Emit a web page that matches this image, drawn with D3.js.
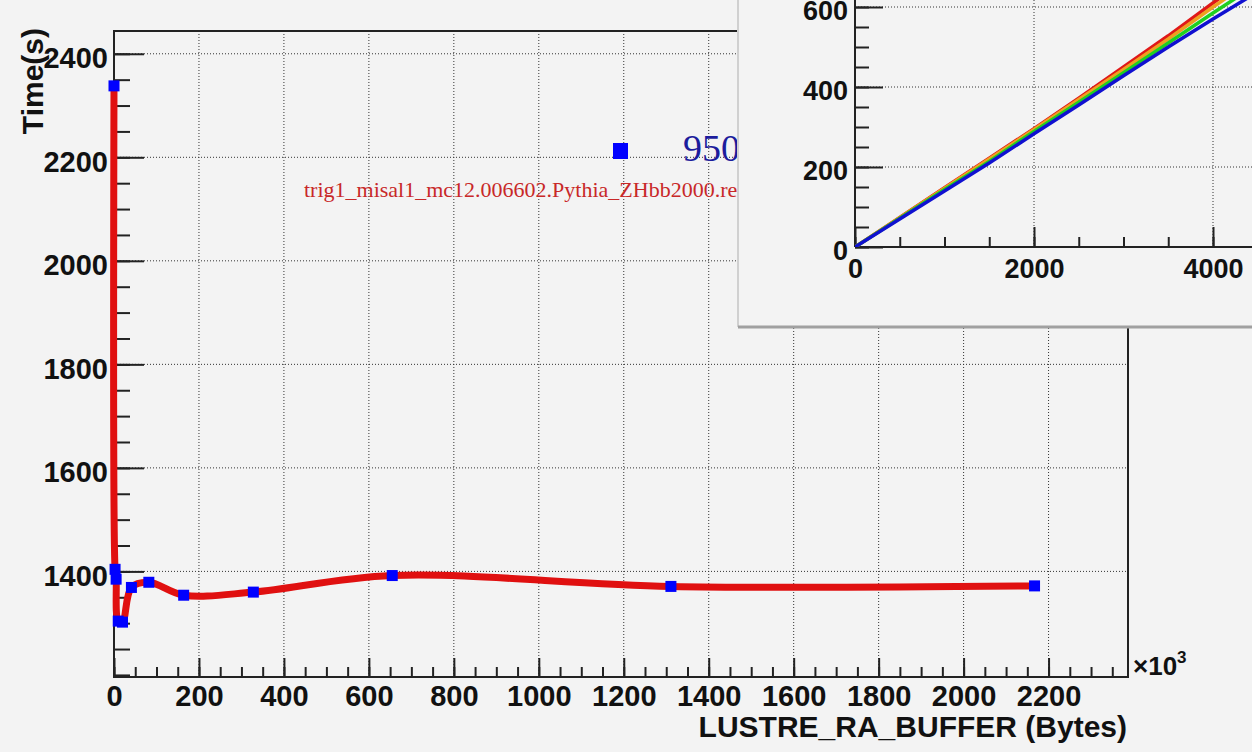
<!DOCTYPE html>
<html>
<head>
<meta charset="utf-8">
<script src="https://cdn.jsdelivr.net/npm/d3@7"></script>
<style>
  body { margin: 0; background: #f3f3f3; }
  svg { display: block; font-family: "Liberation Sans", Arial, sans-serif; }
</style>
</head>
<body>
<div id="chart"></div>
<script>
// main graph: read-ahead buffer size (x10^3 bytes) vs run time
const bufferSize = [0, 2.5, 5, 10, 20, 41, 82, 164, 328, 655, 1311, 2167];
const runTime = [2338, 1404, 1385, 1304, 1302, 1369, 1379, 1354, 1360, 1392, 1371, 1372];
const xTicks = [0, 200, 400, 600, 800, 1000, 1200, 1400, 1600, 1800, 2000, 2200];
const yTicks = [1400, 1600, 1800, 2000, 2200, 2400];
// legend texts: only the part the inset leaves visible
const legendCount = "9500";
const legendFile = "trig1_misal1_mc12.006602.Pythia_ZHbb2000.re";

// inset: time vs events for four runs
const insetEvents = [0, 500, 1000, 1500, 2000, 2500, 3000, 3500, 4000, 4500];
const insetRed = [0, 74, 148, 222, 296, 372, 450, 528, 610, 690];
const insetOrange = [0, 73, 147, 220, 294, 369, 444, 520, 600, 676];
const insetGreen = [0, 72, 144, 214, 289, 362, 436, 510, 585, 658];
const insetBlue = [0, 70, 140, 210, 283, 355, 428, 500, 570, 638];
const insetXTicks = [0, 2000, 4000];
const insetYTicks = [0, 200, 400, 600];

function drawChart() {
  const width = 1252, height = 752;
  const frame = { left: 114, right: 1128, top: 31, bottom: 677 };
  const fmt = d3.format("d");

  const svg = d3.select("#chart").append("svg")
    .attr("width", width)
    .attr("height", height);

  svg.append("rect").attr("width", width).attr("height", height).attr("fill", "#f3f3f3");

  let xScale = d3.scaleLinear().domain([0, 2387]).range([frame.left, frame.right]);
  let yScale = d3.scaleLinear().domain([1196, 2444]).range([frame.bottom, frame.top]);

  // dotted grid
  svg.selectAll(".vgrid").data(xTicks.slice(1)).enter()
    .append("line")
    .attr("x1", d => xScale(d)).attr("x2", d => xScale(d))
    .attr("y1", frame.top).attr("y2", frame.bottom)
    .attr("stroke", "#333").attr("stroke-dasharray", "1,2");
  svg.selectAll(".hgrid").data(yTicks).enter()
    .append("line")
    .attr("x1", frame.left).attr("x2", frame.right)
    .attr("y1", d => yScale(d)).attr("y2", d => yScale(d))
    .attr("stroke", "#333").attr("stroke-dasharray", "1,2");

  // axes (ticks point inward like ROOT)
  let yAxis = svg.append("g")
    .attr("transform", "translate(" + frame.left + ",0)")
    .call(d3.axisLeft(yScale).tickValues(yTicks).tickFormat(fmt).tickSizeInner(-30).tickSizeOuter(0).tickPadding(6));
  svg.append("g")
    .attr("transform", "translate(" + frame.left + ",0)")
    .call(d3.axisLeft(yScale).tickValues(d3.range(1200, 2441, 50)).tickSize(-16).tickFormat(""));

  let xAxis = svg.append("g")
    .attr("transform", "translate(0," + frame.bottom + ")")
    .call(d3.axisBottom(xScale).tickValues(xTicks).tickFormat(fmt).tickSizeInner(-19).tickSizeOuter(0));
  svg.append("g")
    .attr("transform", "translate(0," + frame.bottom + ")")
    .call(d3.axisBottom(xScale).tickValues(d3.range(0, 2387, 50)).tickSize(-10).tickFormat(""));

  svg.selectAll(".domain").remove();
  svg.selectAll(".tick line").attr("stroke", "#222").attr("stroke-width", 2);
  yAxis.selectAll("text").attr("dy", 14);
  xAxis.selectAll("text").attr("y", 29).attr("dy", 0);
  svg.selectAll(".tick text")
    .attr("fill", "#111")
    .style("font-size", "29px")
    .style("font-weight", "bold");

  // frame
  svg.append("rect")
    .attr("x", frame.left).attr("y", frame.top)
    .attr("width", frame.right - frame.left).attr("height", frame.bottom - frame.top)
    .attr("fill", "none").attr("stroke", "#222").attr("stroke-width", 2);

  // axis titles
  svg.append("text")
    .attr("transform", "translate(43," + 28 + ") rotate(-90)")
    .attr("text-anchor", "end")
    .style("font-size", "30px").style("font-weight", "bold")
    .attr("fill", "#111")
    .text("Time(s)");
  svg.append("text")
    .attr("x", 1127).attr("y", 737)
    .attr("text-anchor", "end")
    .style("font-size", "30px").style("font-weight", "bold")
    .attr("fill", "#111")
    .text("LUSTRE_RA_BUFFER (Bytes)");
  let expo = svg.append("text")
    .attr("x", 1133).attr("y", 675)
    .style("font-size", "26px").style("font-weight", "bold")
    .attr("fill", "#111");
  expo.append("tspan").text("\u00d710");
  expo.append("tspan").attr("dy", -12).style("font-size", "17px").text("3");

  // smooth line + markers
  let line = d3.line()
    .x((d, i) => xScale(bufferSize[i]))
    .y(d => yScale(d))
    .curve(d3.curveCatmullRom.alpha(0.5));

  svg.append("path")
    .attr("d", line(runTime))
    .attr("fill", "none")
    .attr("stroke", "#e01010")
    .attr("stroke-width", 7)
    .attr("stroke-linejoin", "round");

  svg.selectAll(".dot").data(runTime).enter()
    .append("rect")
    .attr("class", "dot")
    .attr("x", (d, i) => xScale(bufferSize[i]) - 5.5)
    .attr("y", d => yScale(d) - 5.5)
    .attr("width", 11).attr("height", 11)
    .attr("fill", "#0000ff");

  // legend (partly hidden behind the inset, as in the original)
  svg.append("clipPath").attr("id", "legendClip")
    .append("rect").attr("x", 0).attr("y", 0).attr("width", 737).attr("height", height);
  const legend = svg.append("g").attr("clip-path", "url(#legendClip)");
  legend.append("rect")
    .attr("x", 613).attr("y", 143).attr("width", 15).attr("height", 16)
    .attr("fill", "#0000ff");
  legend.append("text")
    .attr("x", 683).attr("y", 161)
    .style("font-family", "'Liberation Serif', 'Times New Roman', serif")
    .style("font-size", "38px")
    .attr("fill", "#1c1c9c")
    .text(legendCount);
  legend.append("text")
    .attr("x", 304).attr("y", 197)
    .style("font-family", "'Liberation Serif', 'Times New Roman', serif")
    .style("font-size", "22px")
    .attr("fill", "#c82828")
    .text(legendFile);

  // inset pad
  const inset = svg.append("g");
  inset.append("rect")
    .attr("x", 738).attr("y", -10).attr("width", 530).attr("height", 337)
    .attr("fill", "#f3f3f3");
  inset.append("line")
    .attr("x1", 738).attr("x2", 738).attr("y1", 0).attr("y2", 327)
    .attr("stroke", "#d0d0d0").attr("stroke-width", 2);
  inset.append("line")
    .attr("x1", 738).attr("x2", width).attr("y1", 327).attr("y2", 327)
    .attr("stroke", "#a0a0a0").attr("stroke-width", 3);

  const ip = { left: 855, right: 1300, top: -60, bottom: 247 };
  let ix = d3.scaleLinear().domain([0, 4000]).range([ip.left, 1213]);
  let iy = d3.scaleLinear().domain([0, 600]).range([ip.bottom, 7]);

  inset.selectAll(".ivgrid").data(insetXTicks.slice(1)).enter()
    .append("line")
    .attr("x1", d => ix(d)).attr("x2", d => ix(d))
    .attr("y1", ip.top).attr("y2", ip.bottom)
    .attr("stroke", "#333").attr("stroke-dasharray", "1,2");
  inset.selectAll(".ihgrid").data(insetYTicks.slice(1)).enter()
    .append("line")
    .attr("x1", ip.left).attr("x2", ip.right)
    .attr("y1", d => iy(d)).attr("y2", d => iy(d))
    .attr("stroke", "#333").attr("stroke-dasharray", "1,2");

  let iyAxis = inset.append("g")
    .attr("transform", "translate(" + ip.left + ",0)")
    .call(d3.axisLeft(iy).tickValues(insetYTicks).tickFormat(fmt).tickSizeInner(-28).tickSizeOuter(0).tickPadding(7));
  inset.append("g")
    .attr("transform", "translate(" + ip.left + ",0)")
    .call(d3.axisLeft(iy).tickValues(d3.range(0, 651, 50)).tickSize(-14).tickFormat(""));
  let ixAxis = inset.append("g")
    .attr("transform", "translate(0," + ip.bottom + ")")
    .call(d3.axisBottom(ix).tickValues(insetXTicks).tickFormat(fmt).tickSizeInner(-20).tickSizeOuter(0));
  inset.append("g")
    .attr("transform", "translate(0," + ip.bottom + ")")
    .call(d3.axisBottom(ix).tickValues(d3.range(0, 4501, 500)).tickSize(-10).tickFormat(""));

  inset.selectAll(".domain").remove();
  inset.selectAll(".tick line").attr("stroke", "#222").attr("stroke-width", 2);
  iyAxis.selectAll("text").attr("dy", 12);
  ixAxis.selectAll("text").attr("y", 31).attr("dy", 0);
  inset.selectAll(".tick text")
    .attr("fill", "#111")
    .style("font-size", "27px")
    .style("font-weight", "bold");

  // inset axis lines
  inset.append("line")
    .attr("x1", ip.left).attr("x2", ip.left).attr("y1", ip.top).attr("y2", ip.bottom)
    .attr("stroke", "#222").attr("stroke-width", 2);
  inset.append("line")
    .attr("x1", ip.left).attr("x2", ip.right).attr("y1", ip.bottom).attr("y2", ip.bottom)
    .attr("stroke", "#222").attr("stroke-width", 2);

  svg.append("clipPath").attr("id", "insetClip")
    .append("rect")
    .attr("x", ip.left).attr("y", ip.top)
    .attr("width", ip.right - ip.left).attr("height", ip.bottom - ip.top);

  let iline = d3.line()
    .x((d, i) => ix(insetEvents[i]))
    .y(d => iy(d));

  const insetSeries = [insetRed, insetOrange, insetGreen, insetBlue];
  const insetColors = ["#e01818", "#f0a020", "#20d020", "#1010d0"];
  for (let i = 0; i < insetSeries.length; ++i) {
    inset.append("path")
      .attr("clip-path", "url(#insetClip)")
      .attr("d", iline(insetSeries[i]))
      .attr("fill", "none")
      .attr("stroke", insetColors[i])
      .attr("stroke-width", 3.5);
  }
}

drawChart();
</script>
</body>
</html>
